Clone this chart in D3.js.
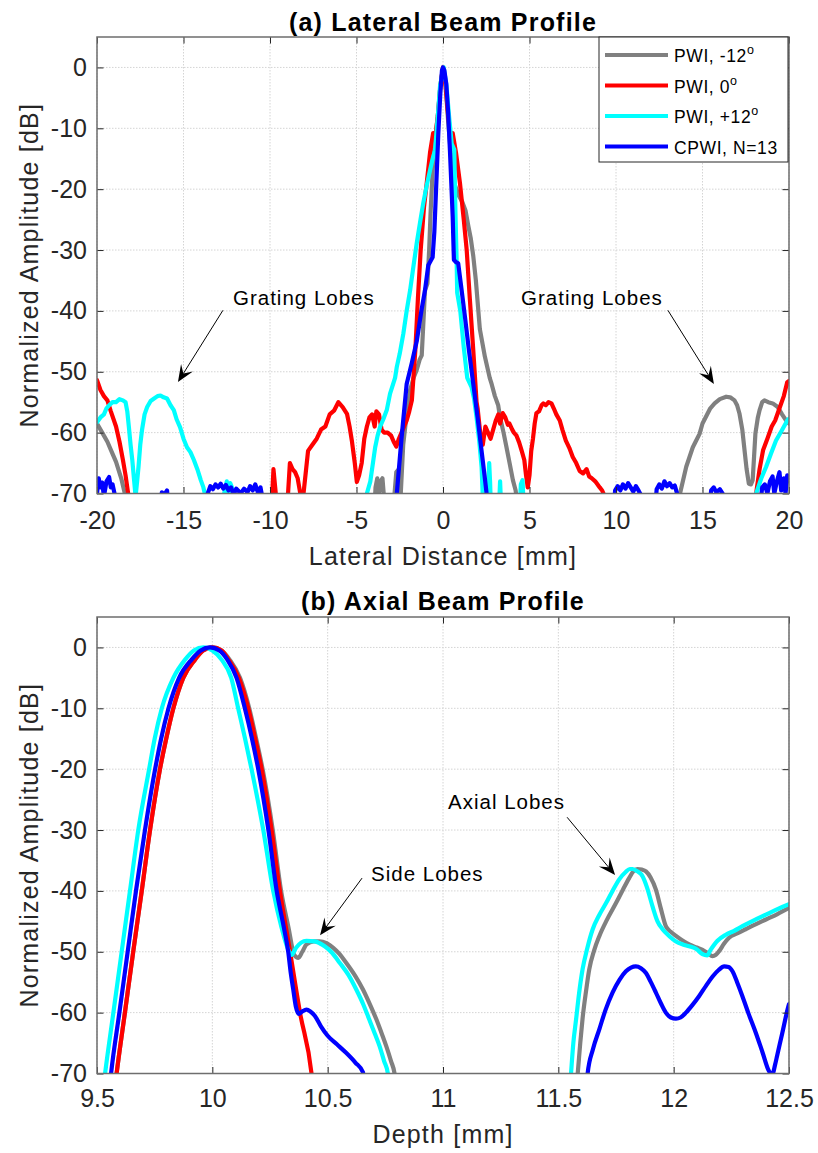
<!DOCTYPE html>
<html>
<head>
<meta charset="utf-8">
<script src="https://cdn.jsdelivr.net/npm/d3@7"></script>
<style>
  body { margin: 0; background: #fff; }
  svg text { font-family: "Liberation Sans", Arial, Helvetica, sans-serif; }
</style>
</head>
<body>
<div id="chart"></div>
<script>
// ---- data ----
const legendLabels = [["PWI, -12", "o"], ["PWI, 0", "o"], ["PWI, +12", "o"], ["CPWI, N=13", ""]];
const latTicks = [-20, -15, -10, -5, 0, 5, 10, 15, 20];
const axTicks = [9.5, 10, 10.5, 11, 11.5, 12, 12.5];
const dbTicks = [0, -10, -20, -30, -40, -50, -60, -70];

// lateral profile [mm, dB]; values below -70 are clipped by the axes
const latGray = [[-20,-58.5],[-19.7,-60],[-19.4,-61.5],[-19.1,-63.5],[-18.9,-64.8],[-18.6,-67.5],[-18.35,-70.5],[-18.2,-75],
  [-4.0,-75],[-3.9,-69],[-3.8,-67.5],[-3.7,-70],[-3.6,-68],[-3.5,-67.5],[-3.4,-71],[-3.0,-75],[-2.8,-70],[-2.7,-66.5],[-2.55,-66],[-2.45,-70.5],
  [-2.3,-62],[-2.1,-57],[-1.9,-53],[-1.7,-51],[-1.52,-49.7],[-1.35,-48],[-1.23,-47.3],[-1.1,-40],[-1.04,-36.6],[-0.9,-35.5],[-0.8,-30],
  [-0.72,-24],[-0.6,-17],[-0.5,-13],[-0.3,-8],[-0.15,-3],[0,0],[0.15,-3],[0.3,-9],[0.45,-14],[0.65,-19],[0.9,-21],[1.1,-22],[1.3,-23.5],
  [1.46,-26],[1.6,-28],[1.75,-31],[1.9,-35],[2.13,-43],[2.42,-47.5],[2.7,-51],[2.81,-52],[3.0,-54],[3.19,-55.5],[3.3,-57.5],[3.5,-60],
  [3.67,-62.4],[3.85,-65],[4.04,-67.8],[4.2,-69.5],[4.3,-72],[4.5,-75],
  [13.5,-75],[13.7,-70],[14.06,-65.6],[14.25,-64],[14.44,-62.4],[14.6,-61.5],[14.83,-60.2],[15.0,-58.5],[15.2,-57.4],[15.45,-56],
  [15.7,-55.2],[16.0,-54.5],[16.37,-54.1],[16.6,-54.2],[16.85,-54.7],[17.0,-55.5],[17.14,-56.9],[17.3,-59.5],[17.43,-62.9],[17.55,-66],
  [17.68,-68.4],[17.8,-68.5],[17.9,-67.8],[17.98,-64],[18.06,-60.1],[18.2,-57.5],[18.3,-56.3],[18.45,-55],[18.58,-54.7],[18.8,-55],
  [19.06,-55.2],[19.35,-55.8],[19.6,-57],[19.83,-58],[20,-58.5]];

const latRed = [[-20,-51.4],[-19.8,-53],[-19.6,-54],[-19.4,-54.7],[-19.2,-56.5],[-18.9,-59],[-18.7,-61.5],[-18.5,-64.5],[-18.35,-67],
  [-18.2,-70],[-18.1,-75],[-10.0,-75],[-9.9,-72],[-9.8,-66],[-9.7,-69],[-9.6,-72],[-9.3,-75],[-9.0,-72],[-8.85,-65],[-8.7,-66],[-8.55,-66.5],
  [-8.4,-67.5],[-8.25,-70],[-8.1,-71],[-7.95,-67],[-7.8,-63],[-7.55,-62],[-7.3,-61],[-7.05,-59.5],[-6.8,-59],[-6.55,-57],[-6.3,-56.4],
  [-6.05,-55],[-5.8,-55.8],[-5.55,-56.9],[-5.4,-59],[-5.27,-61.3],[-5.1,-65],[-4.98,-68.1],[-4.85,-67],[-4.7,-65],[-4.55,-61],[-4.4,-59],
  [-4.25,-57.5],[-4.1,-57],[-3.95,-59],[-3.85,-56.5],[-3.7,-57],[-3.55,-59.5],[-3.4,-60],[-3.2,-60],[-3.0,-60.5],[-2.85,-61.5],[-2.7,-62.3],
  [-2.55,-61],[-2.4,-60],[-2.25,-59],[-2.1,-58],[-1.95,-56.5],[-1.8,-54.7],[-1.6,-46.5],[-1.45,-38],[-1.29,-30],[-1.1,-23],[-0.94,-19],
  [-0.75,-14],[-0.57,-10.8],[-0.45,-11.5],[-0.3,-8],[-0.15,-3],[0,0],[0.15,-3],[0.3,-8],[0.45,-11.5],[0.56,-10.8],[0.75,-14],[0.98,-19],
  [1.2,-25],[1.37,-30],[1.55,-38],[1.75,-46.5],[1.94,-55],[2.0,-56],[2.15,-60],[2.3,-62],[2.45,-59],[2.6,-60],[2.75,-61],[2.9,-59.5],
  [3.05,-58],[3.2,-57],[3.3,-58.5],[3.45,-56.8],[3.6,-57.5],[3.75,-58.7],[3.84,-58.5],[4.0,-59.5],[4.1,-60],[4.25,-60.5],[4.4,-61.6],
  [4.55,-63],[4.7,-64.5],[4.8,-67],[4.9,-69],[5.0,-67],[5.1,-63],[5.2,-61],[5.3,-58.5],[5.4,-56.8],[5.55,-56.5],[5.7,-55.5],[5.8,-55.2],
  [5.95,-55.5],[6.1,-55],[6.27,-55.2],[6.4,-56],[6.55,-57],[6.75,-58],[6.9,-59.5],[7.1,-61.3],[7.3,-62.5],[7.5,-64],[7.7,-65],[7.9,-66.3],
  [8.1,-66.7],[8.3,-66],[8.45,-67.2],[8.6,-67.5],[8.8,-68],[9.06,-69],[9.2,-69.5],[9.35,-70.5],[9.5,-75],
  [17.9,-75],[18.1,-70],[18.3,-66],[18.5,-62.9],[18.75,-61],[19.0,-59],[19.2,-58],[19.45,-56],[19.7,-54],[19.9,-51.7],[20,-51.5]];

const latCyan = [[-20,-58.3],[-19.8,-57.5],[-19.6,-57],[-19.45,-56],[-19.3,-55.5],[-19.1,-55],[-18.9,-55],[-18.7,-54.5],[-18.5,-54.7],
  [-18.35,-55],[-18.25,-56.5],[-18.16,-59],[-18.06,-62],[-17.96,-64.5],[-17.85,-68],[-17.77,-70.5],[-17.68,-68],[-17.6,-65.6],[-17.5,-62],
  [-17.4,-59.6],[-17.25,-57],[-17.1,-55.8],[-16.9,-54.8],[-16.7,-54.4],[-16.5,-54],[-16.33,-53.9],[-16.15,-54.2],[-15.95,-54.4],
  [-15.75,-55.5],[-15.56,-56.3],[-15.4,-57.8],[-15.2,-59.1],[-15.0,-61],[-14.8,-62.4],[-14.6,-63.2],[-14.4,-64.5],[-14.2,-66],[-14.0,-67.8],
  [-13.85,-69],[-13.73,-70.5],[-13.6,-75],[-12.8,-75],[-12.65,-70],[-12.5,-68],[-12.4,-70],[-12.3,-68.3],[-12.2,-69],[-12.1,-71],[-12.0,-75],
  [-4.6,-75],[-4.4,-70],[-4.2,-68],[-4.05,-65],[-3.92,-62.4],[-3.78,-60.5],[-3.63,-59],[-3.45,-57.8],[-3.25,-56.3],[-3.06,-53.6],
  [-2.77,-51],[-2.67,-49.2],[-2.5,-47],[-2.29,-43.7],[-2.1,-40],[-1.9,-36.6],[-1.7,-32.5],[-1.52,-28.9],[-1.3,-25],[-1.14,-22.3],
  [-0.95,-19.5],[-0.75,-16.9],[-0.6,-15],[-0.46,-13.6],[-0.3,-8],[-0.17,-3],[0.04,0],[0.2,-3],[0.35,-8],[0.5,-12.5],[0.65,-13.5],
  [0.72,-24],[0.79,-32],[0.82,-37],[1.0,-40],[1.2,-46],[1.4,-51],[1.65,-52.5],[1.8,-54.5],[1.94,-57.5],[2.1,-61.5],[2.23,-65.6],[2.3,-70.5],
  [2.4,-75],[2.55,-75],[2.63,-68],[2.67,-65],[2.72,-68],[2.8,-75],[3.2,-75],[3.3,-68],[3.4,-75],[4.4,-75],[4.5,-68.5],[4.6,-67.8],[4.7,-75],
  [17.9,-75],[18.1,-70],[18.4,-67.5],[18.68,-65.6],[18.95,-63.5],[19.25,-61.3],[19.55,-59.8],[19.9,-58],[20,-57.7]];

const latBlue = [[-20,-70],[-19.9,-67.5],[-19.8,-69],[-19.7,-68.2],[-19.6,-70.5],[-19.45,-68],[-19.3,-67.3],[-19.2,-69],[-19.1,-68.5],
  [-18.95,-70.5],[-18.8,-75],[-16.4,-75],[-16.25,-69.8],[-16.1,-70.2],[-15.95,-69.5],[-15.8,-75],
  [-13.8,-75],[-13.6,-70],[-13.45,-68.8],[-13.3,-69.3],[-13.15,-68.5],[-13.0,-69],[-12.85,-68.4],[-12.7,-69.2],[-12.55,-68.6],[-12.4,-69.5],
  [-12.25,-69],[-12.1,-70.2],[-11.95,-69.2],[-11.85,-69.5],[-11.7,-70],[-11.5,-69.2],[-11.3,-69.8],[-11.15,-68.8],[-11.0,-69.5],
  [-10.85,-68.5],[-10.7,-69.8],[-10.55,-69],[-10.45,-70.5],[-10.3,-75],
  [-2.9,-75],[-2.67,-70],[-2.4,-61],[-2.1,-52],[-1.8,-48.5],[-1.52,-45],[-1.25,-40],[-1.04,-36.6],[-0.85,-32.5],[-0.6,-31.2],[-0.5,-27],
  [-0.4,-20],[-0.27,-10.8],[-0.15,-4],[-0.06,-0.5],[0,0],[0.08,-0.5],[0.19,-2.7],[0.3,-7.5],[0.4,-13.6],[0.48,-19],[0.56,-24.5],
  [0.63,-31.6],[0.75,-32],[0.88,-32.2],[1.05,-36],[1.27,-41],[1.5,-46.5],[1.75,-52],[2.0,-57.5],[2.23,-63],[2.4,-67],[2.52,-70],[2.7,-75],
  [9.8,-75],[9.95,-69.5],[10.1,-68.8],[10.25,-69.5],[10.4,-68.5],[10.55,-69.2],[10.7,-68.3],[10.85,-69],[11.0,-69.7],[11.15,-68.8],
  [11.3,-69.5],[11.45,-70.3],[11.6,-75],[12.2,-75],[12.35,-69.3],[12.5,-68.5],[12.65,-69.2],[12.8,-68],[12.95,-68.8],[13.1,-68.3],
  [13.25,-69],[13.4,-68.7],[13.55,-70.2],[13.7,-75],[15.3,-75],[15.5,-69.5],[15.65,-69],[15.8,-69.8],[16.0,-69.3],[16.2,-70.2],[16.35,-75],
  [18.2,-75],[18.45,-69],[18.6,-68.5],[18.75,-70],[18.9,-68],[19.05,-67.2],[19.15,-70],[19.3,-68],[19.45,-66.5],[19.55,-69.5],
  [19.7,-67.5],[19.8,-70],[19.9,-67],[20,-68]];

// axial profile [mm, dB]
const axGray = [[9.56,-78],[9.585,-70],[9.621,-60],[9.657,-50],[9.694,-40],[9.73,-30],[9.773,-20],[9.8,-15],[9.831,-10],[9.874,-5],
  [9.925,-2],[9.96,-0.5],[10.0,0],[10.04,-0.5],[10.075,-2],[10.12,-5],[10.16,-10],[10.19,-15],[10.218,-20],[10.262,-30],[10.298,-40],
  [10.33,-46],[10.355,-50.5],[10.373,-51],[10.39,-50],[10.408,-48.8],[10.44,-48.3],[10.465,-48.3],[10.495,-48.6],[10.523,-49.3],
  [10.55,-50.3],[10.58,-51.8],[10.62,-54],[10.653,-56.2],[10.685,-58.8],[10.711,-61.1],[10.735,-63.5],[10.754,-65.5],[10.775,-68],
  [10.79,-70],[10.81,-78],
  [11.56,-78],[11.584,-70],[11.595,-65],[11.605,-61],[11.62,-56.5],[11.634,-52.9],[11.655,-49.8],[11.678,-47.4],[11.71,-44.8],
  [11.75,-42],[11.78,-39.8],[11.807,-37.9],[11.825,-36.8],[11.843,-36.4],[11.862,-36.5],[11.88,-36.8],[11.9,-37.8],[11.923,-39.8],
  [11.945,-43],[11.966,-45.8],[11.99,-46.8],[12.01,-47.4],[12.04,-48.2],[12.067,-48.8],[12.1,-49.3],[12.125,-49.7],[12.15,-50.3],
  [12.168,-50.7],[12.183,-50.5],[12.197,-49.9],[12.218,-48.7],[12.24,-47.7],[12.275,-47],[12.312,-46.3],[12.355,-45.5],[12.4,-44.7],
  [12.45,-43.8],[12.5,-42.8]];

const axRed = [[9.56,-78],[9.585,-70],[9.621,-60],[9.657,-50],[9.694,-40],[9.73,-30],[9.773,-20],[9.8,-15],[9.831,-10],[9.874,-5],
  [9.925,-2],[9.96,-0.5],[10.0,0],[10.04,-0.5],[10.07,-2],[10.115,-5],[10.156,-10],[10.186,-15],[10.214,-20],[10.257,-30],[10.293,-40],
  [10.337,-50],[10.38,-60],[10.43,-70],[10.45,-78]];

const axCyan = [[9.51,-78],[9.535,-70],[9.571,-60],[9.607,-50],[9.643,-40],[9.679,-30],[9.726,-20],[9.75,-15],[9.781,-10],[9.831,-5],
  [9.882,-2],[9.92,-0.5],[9.962,0],[10.0,-0.5],[10.04,-2],[10.082,-5],[10.112,-10],[10.142,-15],[10.17,-20],[10.221,-30],[10.264,-40],
  [10.3,-46],[10.333,-50],[10.343,-50.5],[10.364,-49.3],[10.385,-48.5],[10.408,-48.2],[10.444,-48.3],[10.465,-48.6],[10.487,-49.1],
  [10.52,-50.2],[10.552,-51.8],[10.59,-53.8],[10.624,-56.2],[10.655,-58.7],[10.68,-61.1],[10.705,-63.5],[10.725,-65.5],[10.745,-68],
  [10.761,-70],[10.78,-78],
  [11.54,-78],[11.555,-70],[11.565,-65],[11.577,-61.1],[11.59,-56.8],[11.605,-52.9],[11.625,-49.5],[11.649,-46.3],[11.677,-44],
  [11.707,-42],[11.735,-40],[11.764,-38.1],[11.792,-36.9],[11.81,-36.4],[11.822,-36.4],[11.843,-36.8],[11.865,-37.6],[11.885,-39.5],
  [11.908,-42.5],[11.93,-45],[11.952,-46.3],[11.98,-47.4],[12.01,-48.3],[12.04,-48.8],[12.067,-49.1],[12.1,-49.6],[12.125,-50.4],
  [12.145,-50.6],[12.16,-49.7],[12.19,-48.2],[12.226,-47.2],[12.26,-46.6],[12.298,-45.8],[12.35,-44.8],[12.4,-43.9],[12.45,-43],[12.5,-42.2]];

const axBlue = [[9.54,-78],[9.561,-70],[9.597,-60],[9.633,-50],[9.669,-40],[9.708,-30],[9.752,-20],[9.778,-15],[9.81,-10],[9.856,-5],
  [9.91,-2],[9.95,-0.5],[9.99,0],[10.03,-0.5],[10.065,-2],[10.105,-5],[10.141,-10],[10.172,-15],[10.199,-20],[10.243,-30],[10.279,-40],
  [10.31,-46],[10.329,-50],[10.34,-53.5],[10.35,-56],[10.362,-59],[10.375,-60.2],[10.39,-59.8],[10.408,-59.5],[10.425,-59.8],
  [10.444,-60.5],[10.47,-62.2],[10.5,-63.8],[10.54,-65.2],[10.58,-66.6],[10.62,-68.2],[10.653,-69.8],[10.67,-78],
  [11.61,-78],[11.627,-70],[11.65,-66],[11.678,-62.7],[11.705,-59.5],[11.735,-56.7],[11.765,-54.6],[11.793,-53.2],[11.815,-52.6],
  [11.836,-52.4],[11.858,-52.7],[11.88,-53.5],[11.9,-54.9],[11.923,-56.7],[11.945,-58.5],[11.966,-60],[11.988,-60.8],[12.01,-61],
  [12.03,-60.8],[12.053,-60],[12.08,-58.8],[12.11,-57.3],[12.14,-55.6],[12.168,-54.1],[12.195,-53],[12.219,-52.4],[12.238,-52.5],
  [12.255,-53.2],[12.275,-55],[12.298,-57.3],[12.325,-60.2],[12.356,-63.3],[12.385,-66.5],[12.413,-69.6],[12.427,-70.2],[12.44,-68.5],
  [12.449,-67],[12.47,-63.5],[12.497,-59],[12.5,-58.6]];

// ---- drawing ----
const width = 818, height = 1153;
const colors = ["#808080", "#ff0000", "#00ffff", "#0000ff"];
const ink = "#262626";

const svg = d3.select("#chart").append("svg")
    .attr("width", width)
    .attr("height", height)
    .style("display", "block");

const panels = [
  { id: "a", top: 37, bottom: 493.5, domain: [-20, 20], ticks: latTicks,
    title: "(a) Lateral Beam Profile", xlabel: "Lateral Distance [mm]",
    titleY: 31, xlabelY: 565, tickPad: 18, curve: d3.curveLinear,
    data: [latGray, latRed, latCyan, latBlue],
    notes: [
      { text: "Grating Lobes", tx: -12.14, ty: -39.0, anchor: "start", from: [-12.72, -39.9], to: [-15.32, -51.7] },
      { text: "Grating Lobes", tx: 4.51, ty: -39.0, anchor: "start", from: [13.0, -39.9], to: [15.66, -52.0] }
    ] },
  { id: "b", top: 617, bottom: 1073.5, domain: [9.5, 12.5], ticks: axTicks,
    title: "(b) Axial Beam Profile", xlabel: "Depth [mm]",
    titleY: 610, xlabelY: 1143, tickPad: 16, curve: d3.curveMonotoneX,
    data: [axGray, axRed, axCyan, axBlue],
    notes: [
      { text: "Side Lobes", tx: 10.688, ty: -38.3, anchor: "start", from: [10.649, -37.9], to: [10.467, -47.3] },
      { text: "Axial Lobes", tx: 11.529, ty: -26.6, anchor: "end", from: [11.538, -27.9], to: [11.746, -37.4] }
    ] }
];

const left = 97, right = 789;

panels.forEach(function (p) {
    var x = d3.scaleLinear().domain(p.domain).range([left, right]);
    var y = d3.scaleLinear().domain([-70, 5]).range([p.bottom, p.top]);
    var g = svg.append("g");

    // grid
    g.append("g").selectAll("line").data(p.ticks).enter().append("line")
        .attr("x1", d => x(d)).attr("x2", d => x(d))
        .attr("y1", p.top).attr("y2", p.bottom)
        .attr("stroke", "#d4d4d4").attr("stroke-width", 1).attr("stroke-dasharray", "1.5,1.5");
    g.append("g").selectAll("line").data(dbTicks).enter().append("line")
        .attr("x1", left).attr("x2", right)
        .attr("y1", d => y(d)).attr("y2", d => y(d))
        .attr("stroke", "#d4d4d4").attr("stroke-width", 1).attr("stroke-dasharray", "1.5,1.5");

    // curves, clipped to the axes box
    svg.append("clipPath").attr("id", "clip-" + p.id)
        .append("rect").attr("x", left).attr("y", p.top)
        .attr("width", right - left).attr("height", p.bottom - p.top);

    var line = d3.line().x(d => x(d[0])).y(d => y(d[1])).curve(p.curve);
    g.append("g").attr("clip-path", "url(#clip-" + p.id + ")")
        .selectAll("path").data(p.data).enter().append("path")
        .attr("d", line)
        .attr("fill", "none")
        .attr("stroke", (d, i) => colors[i])
        .attr("stroke-width", 4.2)
        .attr("stroke-linejoin", "round")
        .attr("stroke-linecap", "round");

    // axes
    var fmt = d => String(d);
    var xb = g.append("g").attr("transform", `translate(0,${p.bottom})`)
        .call(d3.axisBottom(x).tickValues(p.ticks).tickFormat(fmt).tickSizeInner(-6.5).tickSizeOuter(0).tickPadding(p.tickPad));
    var xt = g.append("g").attr("transform", `translate(0,${p.top})`)
        .call(d3.axisTop(x).tickValues(p.ticks).tickFormat("").tickSizeInner(-6.5).tickSizeOuter(0));
    var yl = g.append("g").attr("transform", `translate(${left},0)`)
        .call(d3.axisLeft(y).tickValues(dbTicks).tickFormat(fmt).tickSizeInner(-6.5).tickSizeOuter(0).tickPadding(10));
    var yr = g.append("g").attr("transform", `translate(${right},0)`)
        .call(d3.axisRight(y).tickValues(dbTicks).tickFormat("").tickSizeInner(-6.5).tickSizeOuter(0));
    [xb, xt, yl, yr].forEach(function (a) {
        a.select(".domain").remove();
        a.selectAll(".tick line").attr("stroke", ink).attr("stroke-width", 1);
        a.selectAll(".tick text").attr("fill", ink).style("font-size", "25px");
    });

    g.append("rect")
        .attr("x", left).attr("y", p.top)
        .attr("width", right - left).attr("height", p.bottom - p.top)
        .attr("fill", "none").attr("stroke", "#6e6e6e").attr("stroke-width", 1.5);

    // labels
    g.append("text").text(p.title)
        .attr("x", (left + right) / 2).attr("y", p.titleY)
        .attr("text-anchor", "middle").attr("font-weight", "bold")
        .style("font-size", "25px").style("letter-spacing", "1.2px").attr("fill", "#000");
    g.append("text").text(p.xlabel)
        .attr("x", (left + right) / 2).attr("y", p.xlabelY)
        .attr("text-anchor", "middle")
        .style("font-size", "25px").style("letter-spacing", "1.2px").attr("fill", ink);
    g.append("text").text("Normalized Amplitude [dB]")
        .attr("transform", `translate(38,${(p.top + p.bottom) / 2}) rotate(-90)`)
        .attr("text-anchor", "middle")
        .style("font-size", "25px").style("letter-spacing", "1.2px").attr("fill", ink);

    // annotations: text + arrow
    p.notes.forEach(function (n) {
        g.append("text").text(n.text)
            .attr("x", x(n.tx)).attr("y", y(n.ty))
            .attr("text-anchor", n.anchor)
            .style("font-size", "20.5px").style("letter-spacing", "1px").attr("fill", "#000");
        var x1 = x(n.from[0]), y1 = y(n.from[1]), x2 = x(n.to[0]), y2 = y(n.to[1]);
        var ang = Math.atan2(y2 - y1, x2 - x1);
        var L = 17, W = 14;
        g.append("line")
            .attr("x1", x1).attr("y1", y1)
            .attr("x2", x2 - Math.cos(ang) * L * 0.6).attr("y2", y2 - Math.sin(ang) * L * 0.6)
            .attr("stroke", "#000").attr("stroke-width", 1);
        g.append("path")
            .attr("d", `M0,0L${-L},${-W / 2}L${-L * 0.6},0L${-L},${W / 2}Z`)
            .attr("transform", `translate(${x2},${y2}) rotate(${ang * 180 / Math.PI})`)
            .attr("fill", "#000");
    });
});

// legend (top right of panel a)
var leg = svg.append("g").attr("transform", "translate(599,37)");
leg.append("rect").attr("width", 189).attr("height", 125)
    .attr("fill", "#fff").attr("stroke", ink).attr("stroke-width", 1);
var rows = leg.selectAll("g.row").data(legendLabels).enter().append("g")
    .attr("class", "row")
    .attr("transform", (d, i) => `translate(0,${18 + i * 30.5})`);
rows.append("line").attr("x1", 6).attr("x2", 69)
    .attr("stroke", (d, i) => colors[i]).attr("stroke-width", 4.2);
var lt = rows.append("text").attr("x", 75).attr("y", 7)
    .style("font-size", "17.5px").style("letter-spacing", "0.6px").attr("fill", "#000");
lt.append("tspan").text(d => d[0]);
lt.append("tspan").text(d => d[1]).attr("dy", -8).style("font-size", "12.5px");
</script>
</body>
</html>
